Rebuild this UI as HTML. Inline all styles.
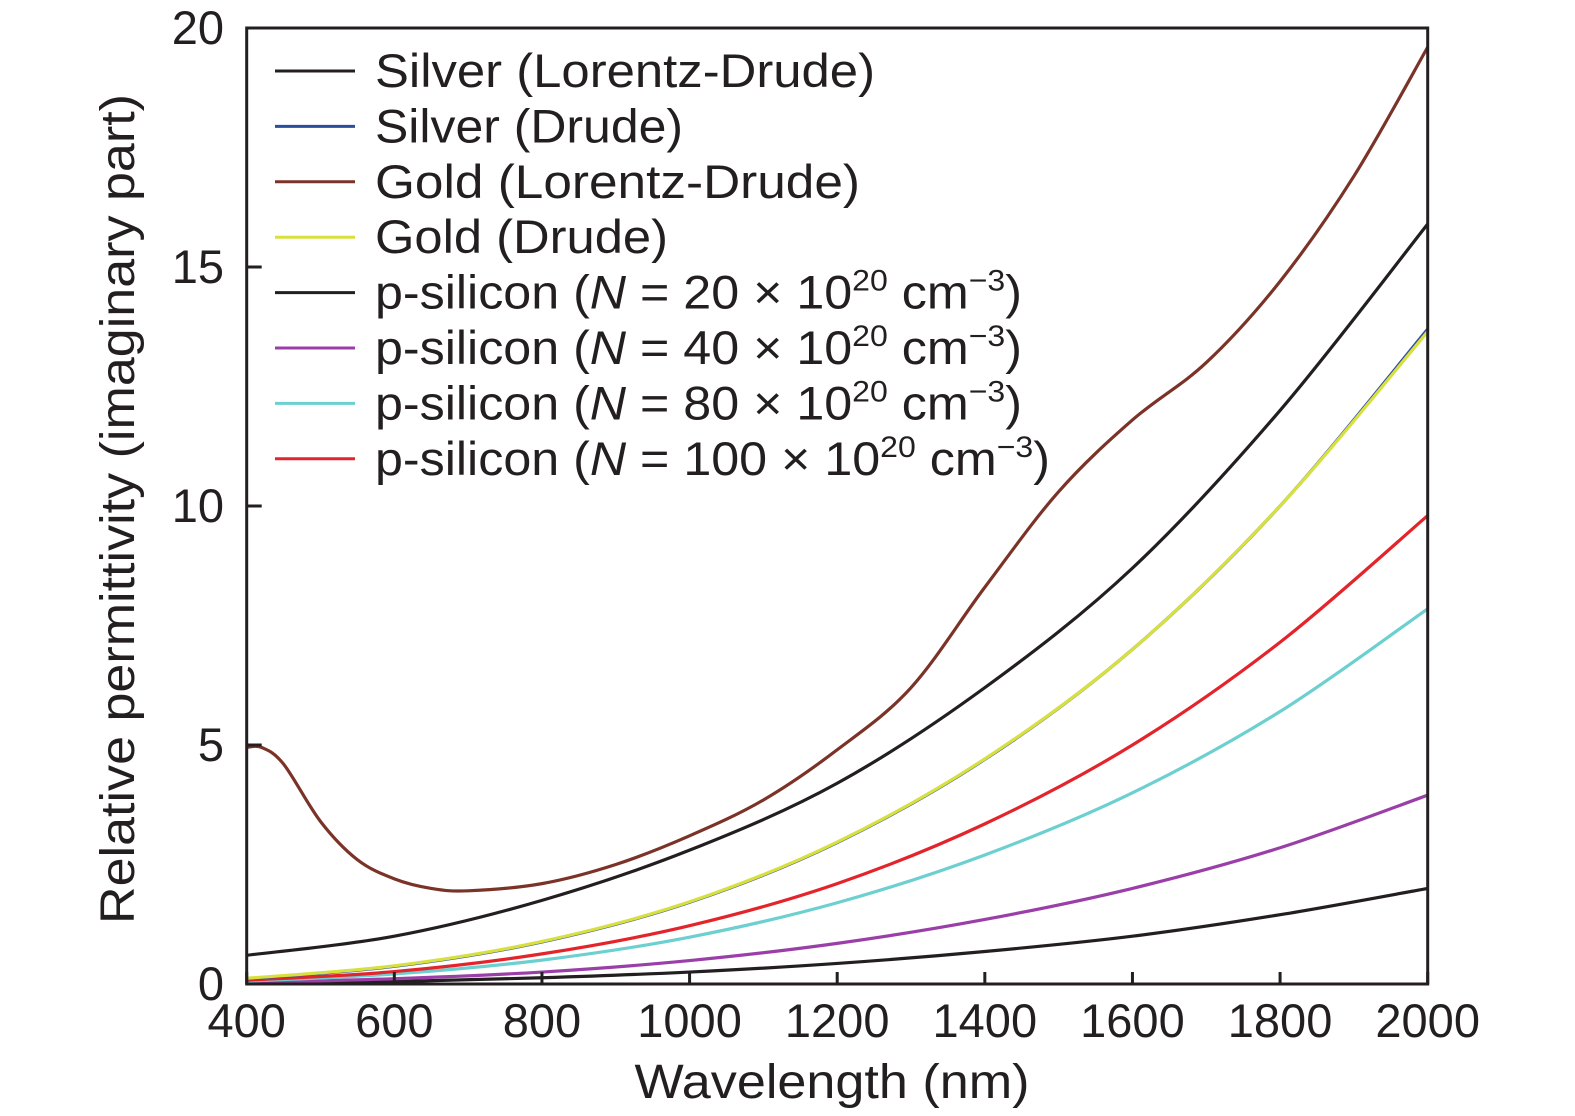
<!DOCTYPE html>
<html><head><meta charset="utf-8"><style>
body{margin:0;background:#fff}
svg{display:block;font-family:"Liberation Sans",sans-serif;fill:#231f20}
</style></head><body>
<svg width="1575" height="1116" viewBox="0 0 1575 1116" xmlns="http://www.w3.org/2000/svg" id="svg">
<g id="plot"></g>
<rect x="246.7" y="28" width="1181" height="956" fill="none" stroke="#231f20" stroke-width="3"/>
<g id="axes" font-size="47" fill="#231f20"></g>
<text x="832" y="1098" font-size="48" text-anchor="middle" textLength="395" lengthAdjust="spacingAndGlyphs">Wavelength (nm)</text>
<text transform="translate(134,509) rotate(-90)" font-size="48" text-anchor="middle" textLength="830" lengthAdjust="spacingAndGlyphs">Relative permittivity (imaginary part)</text>
<g id="legend" font-size="47"></g>
</svg>
<script>
const xTicks=[400,600,800,1000,1200,1400,1600,1800,2000];
const yTicks=[0,5,10,15,20];
const wlGoldLD=[400,420,450,500,550,600,650,700,800,900,1000,1100,1200,1300,1400,1500,1600,1700,1800,1900,2000];
const goldLD=[4.95,4.95,4.6,3.4,2.6,2.2,2.0,1.95,2.1,2.5,3.1,3.85,4.9,6.2,8.3,10.3,11.8,13.0,14.7,16.9,19.6];
const wl=[400,600,800,1000,1200,1400,1600,1800,2000];
const silverLD=[0.6,1.0,1.75,2.8,4.2,6.2,8.7,12.0,15.9];
const silverDrude=[0.11,0.37,0.88,1.71,2.96,4.7,7.0,10.0,13.7];
const goldDrude=[0.12,0.38,0.89,1.72,2.97,4.71,7.0,10.0,13.65];
const pSi20=[0.015,0.05,0.13,0.25,0.43,0.68,1.0,1.45,2.0];
const pSi40=[0.03,0.11,0.25,0.49,0.85,1.35,2.0,2.85,3.95];
const pSi80=[0.06,0.21,0.5,0.98,1.7,2.7,4.0,5.7,7.85];
const pSi100=[0.08,0.26,0.63,1.22,2.1,3.35,5.0,7.15,9.8];
const NS="http://www.w3.org/2000/svg";
const X0=246.7,X1=1427.7,Y0=984,Y1=28;
const sx=v=>X0+(v-400)/1600*(X1-X0);
const sy=v=>Y0-v/20*(Y0-Y1);
function mk(t,a,p){const e=document.createElementNS(NS,t);for(const k in a)e.setAttribute(k,a[k]);(p||document.getElementById('plot')).appendChild(e);return e;}
function path(xs,ys){const P=xs.map((x,i)=>[sx(x),sy(ys[i])]);let d=`M${P[0][0]},${P[0][1]}`;
for(let i=0;i<P.length-1;i++){const p0=P[Math.max(0,i-1)],p1=P[i],p2=P[i+1],p3=P[Math.min(P.length-1,i+2)];
d+=` C${p1[0]+(p2[0]-p0[0])/6},${p1[1]+(p2[1]-p0[1])/6} ${p2[0]-(p3[0]-p1[0])/6},${p2[1]-(p3[1]-p1[1])/6} ${p2[0]},${p2[1]}`;}return d;}
const series=[
 ["p-silicon-20-line",wl,pSi20,"#231f20"],
 ["p-silicon-40-line",wl,pSi40,"#9b3fa8"],
 ["p-silicon-80-line",wl,pSi80,"#6ccfd0"],
 ["p-silicon-100-line",wl,pSi100,"#e3242b"],
 ["silver-drude-line",wl,silverDrude,"#2a4da0"],
 ["gold-drude-line",wl,goldDrude,"#d8e040"],
 ["silver-lorentz-drude-line",wl,silverLD,"#231f20"],
 ["gold-lorentz-drude-line",wlGoldLD,goldLD,"#7b3328"]];
for(const s of series){const e=mk('path',{d:path(s[1],s[2]),fill:'none',stroke:s[3],'stroke-width':3.2});

}
const ax=document.getElementById('axes');
for(const t of xTicks){const l=mk('line',{x1:sx(t),x2:sx(t),y1:Y0,y2:Y0-12,stroke:'#231f20','stroke-width':3},ax);


const tx=mk('text',{x:sx(t),y:1037,'text-anchor':'middle'},ax);tx.textContent=t;

}
for(const t of yTicks){const l=mk('line',{x1:X0,x2:X0+15,y1:sy(t),y2:sy(t),stroke:'#231f20','stroke-width':3},ax);


const tx=mk('text',{x:224,y:sy(t)+16,'text-anchor':'end'},ax);tx.textContent=t;

}
const lg=document.getElementById('legend');
const sup="<tspan font-size='30' dy='-18'>20</tspan><tspan dy='18'> cm</tspan><tspan font-size='30' dy='-18'>−3</tspan><tspan dy='18'>)</tspan>";
const labels=["Silver (Lorentz-Drude)","Silver (Drude)","Gold (Lorentz-Drude)","Gold (Drude)","p-silicon (<tspan font-style='italic'>N</tspan> = 20 × 10"+sup,"p-silicon (<tspan font-style='italic'>N</tspan> = 40 × 10"+sup,"p-silicon (<tspan font-style='italic'>N</tspan> = 80 × 10"+sup,"p-silicon (<tspan font-style='italic'>N</tspan> = 100 × 10"+sup];
const lw=[500,308,485,293,647,647,647,675];
const lcol=["#231f20","#2a4da0","#7b3328","#d8e040","#231f20","#9b3fa8","#6ccfd0","#e3242b"];
labels.forEach((t,i)=>{const y=71+i*55.4;
const l=mk('line',{x1:275,x2:355,y1:y,y2:y,stroke:lcol[i],'stroke-width':3},lg);


const tx=mk('text',{x:375,y:y+16,textLength:lw[i],lengthAdjust:'spacingAndGlyphs'},lg);tx.innerHTML=t;

});
</script>
</body></html>
